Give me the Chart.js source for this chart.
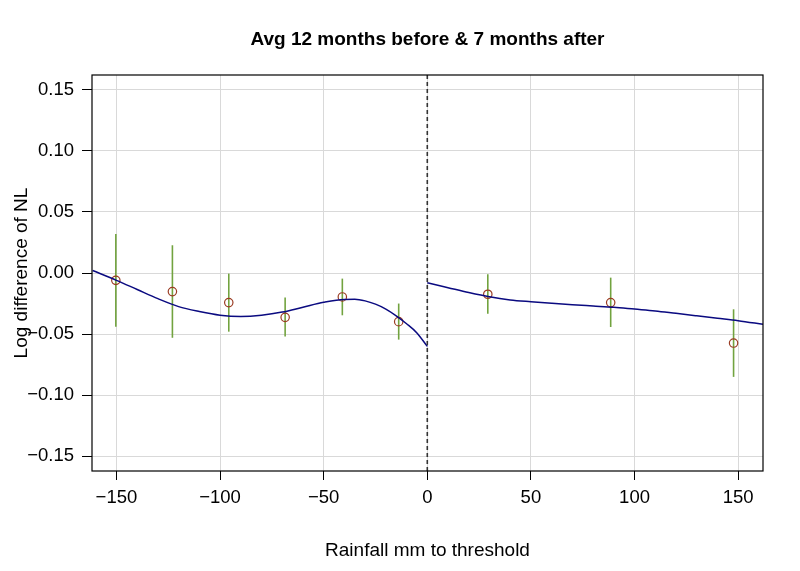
<!DOCTYPE html>
<html>
<head>
<meta charset="utf-8">
<script src="https://cdn.jsdelivr.net/npm/chart.js@4.4.0/dist/chart.umd.min.js"></script>
<style>
html,body{margin:0;padding:0;background:#fff;}
#wrap{width:800px;height:571px;position:relative;}
</style>
</head>
<body>
<div id="wrap"><canvas id="c" width="800" height="571"></canvas></div>
<script>
const titleText = "Avg 12 months before & 7 months after";
const xTitle = "Rainfall mm to threshold";
const yTitle = "Log difference of NL";
const xTicks = [-150, -100, -50, 0, 50, 100, 150];
const yTicks = [-0.15, -0.10, -0.05, 0.00, 0.05, 0.10, 0.15];

const pointX  = [-150.3, -123, -95.8, -68.6, -41, -13.8, 29.2, 88.5, 147.8];
const pointY  = [-0.006, -0.0152, -0.0242, -0.0363, -0.0196, -0.0398, -0.0174, -0.0242, -0.0573];
const pointHi = [0.032, 0.0227, -0.0005, -0.020, -0.0046, -0.025, -0.001, -0.0038, -0.0297];
const pointLo = [-0.044, -0.053, -0.048, -0.052, -0.0346, -0.0545, -0.0333, -0.0442, -0.085];

const leftCurveX = [-161.5, -150, -140, -130, -120, -110, -100, -90, -80, -70, -60, -50, -40, -35, -30, -25, -20, -15, -10, -5, 0];
const leftCurveY = [0.002, -0.006, -0.0135, -0.021, -0.0275, -0.0315, -0.0345, -0.0355, -0.0345, -0.032, -0.028, -0.024, -0.0216, -0.0215, -0.0228, -0.0255, -0.0295, -0.035, -0.0415, -0.049, -0.060];
const rightCurveX = [0, 10, 20, 30, 40, 50, 60, 70, 80, 90, 100, 110, 120, 130, 140, 150, 162];
const rightCurveY = [-0.008, -0.012, -0.016, -0.0195, -0.022, -0.0235, -0.0248, -0.026, -0.027, -0.028, -0.0295, -0.031, -0.033, -0.035, -0.037, -0.039, -0.042];

const FONT = "'Liberation Sans', Arial, Helvetica, sans-serif";
const minus = s => s.replace('-', '\u2212');

const zip = (xs, ys) => xs.map((x, i) => ({x: x, y: ys[i]}));

const overlay = {
  id: 'overlay',
  beforeDatasetsDraw(chart) {
    const {ctx, scales: {x, y}} = chart;
    ctx.save();
    ctx.strokeStyle = '#72a33f';
    ctx.lineWidth = 1.6;
    pointX.forEach((px, i) => {
      const xp = x.getPixelForValue(px);
      ctx.beginPath();
      ctx.moveTo(xp, y.getPixelForValue(pointHi[i]));
      ctx.lineTo(xp, y.getPixelForValue(pointLo[i]));
      ctx.stroke();
    });
    ctx.restore();
  },
  afterDatasetsDraw(chart) {
    const {ctx, chartArea: a, scales: {x, y}} = chart;
    ctx.save();
    const x0 = x.getPixelForValue(0);
    ctx.strokeStyle = '#333';
    ctx.lineWidth = 1.6;
    ctx.setLineDash([4, 3]);
    ctx.beginPath();
    ctx.moveTo(x0, a.top);
    ctx.lineTo(x0, a.bottom);
    ctx.stroke();
    ctx.setLineDash([]);
    ctx.strokeStyle = '#000';
    ctx.lineWidth = 1.2;
    ctx.strokeRect(a.left, a.top, a.right - a.left, a.bottom - a.top);
    ctx.fillStyle = '#000';
    ctx.textAlign = 'center';
    ctx.textBaseline = 'alphabetic';
    ctx.font = 'bold 19px ' + FONT;
    ctx.fillText(titleText, (a.left + a.right) / 2, 45);
    ctx.font = '19px ' + FONT;
    ctx.fillText(xTitle, (a.left + a.right) / 2, 556);
    ctx.translate(27, (a.top + a.bottom) / 2);
    ctx.rotate(-Math.PI / 2);
    ctx.fillText(yTitle, 0, 0);
    ctx.restore();
  }
};

new Chart(document.getElementById('c'), {
  type: 'scatter',
  data: {
    datasets: [
      {
        data: zip(leftCurveX, leftCurveY),
        showLine: true,
        borderColor: '#0a0a80',
        borderWidth: 1.5,
        pointRadius: 0,
        cubicInterpolationMode: 'monotone',
        fill: false
      },
      {
        data: zip(rightCurveX, rightCurveY),
        showLine: true,
        borderColor: '#0a0a80',
        borderWidth: 1.5,
        pointRadius: 0,
        cubicInterpolationMode: 'monotone',
        fill: false
      },
      {
        data: zip(pointX, pointY),
        showLine: false,
        pointStyle: 'circle',
        pointRadius: 4.2,
        pointBorderWidth: 1.2,
        pointBorderColor: '#9a3b22',
        pointBackgroundColor: 'rgba(0,0,0,0)'
      }
    ]
  },
  options: {
    responsive: false,
    animation: false,
    devicePixelRatio: 1,
    layout: {padding: {left: 0, right: 37, top: 75, bottom: 0}},
    plugins: {legend: {display: false}, tooltip: {enabled: false}, title: {display: false}},
    scales: {
      x: {
        type: 'linear',
        min: -161.8,
        max: 162,
        afterBuildTicks: s => { s.ticks = xTicks.map(v => ({value: v})); },
        afterFit: s => { s.height = 100; },
        grid: {color: '#d9d9d9', lineWidth: 1, tickColor: '#000', tickLength: 9, drawTicks: true},
        border: {display: false},
        ticks: {
          color: '#000',
          font: {family: FONT, size: 18.5},
          padding: 7,
          maxRotation: 0,
          callback: v => minus(String(v))
        }
      },
      y: {
        type: 'linear',
        min: -0.162,
        max: 0.162,
        afterBuildTicks: s => { s.ticks = yTicks.map(v => ({value: v})); },
        afterFit: s => { s.width = 92; },
        grid: {color: '#d9d9d9', lineWidth: 1, tickColor: '#000', tickLength: 10, drawTicks: true},
        border: {display: false},
        ticks: {
          color: '#000',
          font: {family: FONT, size: 18.5},
          padding: 8,
          callback: v => minus(v.toFixed(2))
        }
      }
    }
  },
  plugins: [overlay]
});
</script>
</body>
</html>
